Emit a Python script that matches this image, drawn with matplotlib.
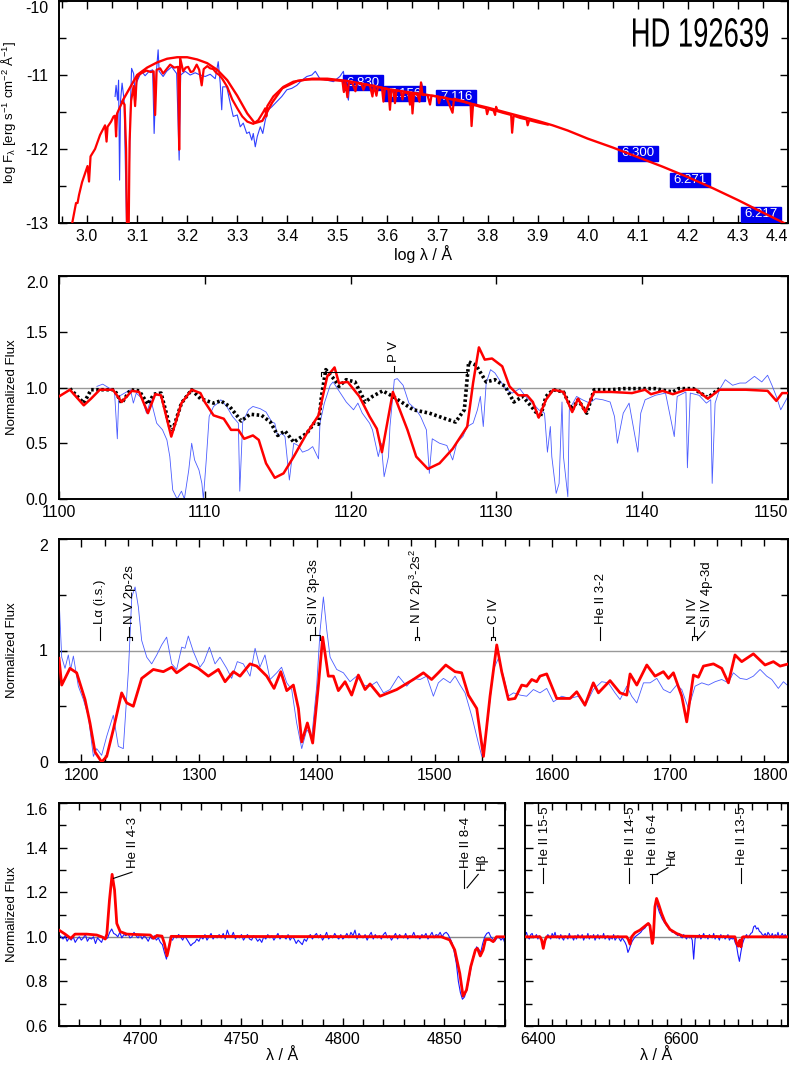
import matplotlib.pyplot as plt
import numpy as np
from matplotlib import font_manager
from matplotlib.patches import Rectangle, PathPatch
from matplotlib.textpath import TextPath
from matplotlib.transforms import Affine2D

# ---------------- data ----------------
# panel 1: SED, log lambda vs log F
sed_obs = [(3.056, -11.29), (3.058, -11.14), (3.061, -11.34), (3.063, -11.07), (3.065, -12.42), (3.067, -11.34),
           (3.070, -11.11), (3.074, -11.34), (3.079, -13.05), (3.083, -12.87), (3.085, -12.06), (3.087, -11.34),
           (3.089, -10.91), (3.093, -10.98), (3.097, -11.34), (3.099, -11.10), (3.103, -11.04), (3.109, -10.95),
           (3.116, -11.01), (3.124, -10.95), (3.131, -10.93), (3.134, -11.79), (3.138, -11.00), (3.142, -10.66),
           (3.144, -10.95), (3.152, -11.02), (3.159, -10.95), (3.169, -10.89), (3.179, -10.98), (3.184, -12.15),
           (3.187, -11.00), (3.196, -10.95), (3.206, -11.00), (3.216, -10.97), (3.226, -11.00), (3.236, -11.02),
           (3.246, -10.99), (3.256, -11.05), (3.262, -10.82), (3.266, -11.11), (3.269, -11.47), (3.271, -11.16),
           (3.279, -11.16), (3.286, -11.38), (3.292, -11.56), (3.300, -11.54), (3.306, -11.70), (3.312, -11.65),
           (3.319, -11.79), (3.324, -11.77), (3.329, -11.88), (3.332, -11.79), (3.336, -11.97), (3.340, -11.83),
           (3.346, -11.70), (3.351, -11.79), (3.356, -11.61), (3.362, -11.47), (3.369, -11.43), (3.379, -11.36),
           (3.389, -11.29), (3.399, -11.20), (3.409, -11.18), (3.419, -11.14), (3.429, -11.07), (3.439, -11.02),
           (3.449, -11.00), (3.456, -10.95), (3.465, -11.05), (3.479, -11.07), (3.492, -11.09), (3.505, -11.02),
           (3.512, -10.95), (3.515, -11.11), (3.522, -11.34), (3.525, -11.10), (3.530, -11.06), (3.540, -11.12),
           (3.550, -11.10), (3.560, -11.16), (3.570, -11.13), (3.580, -11.18), (3.590, -11.15), (3.600, -11.20),
           (3.610, -11.17), (3.620, -11.22), (3.630, -11.19), (3.640, -11.24), (3.650, -11.22), (3.660, -11.26),
           (3.668, -11.10), (3.675, -11.27)]

sed_model = [(2.969, -13.05), (2.974, -12.87), (2.978, -12.73), (2.981, -12.73), (2.984, -12.62), (2.990, -12.45),
             (2.996, -12.33), (3.001, -12.23), (3.004, -12.44), (3.007, -12.10), (3.016, -12.00), (3.026, -11.81),
             (3.036, -11.68), (3.039, -11.90), (3.041, -11.70), (3.048, -11.63), (3.053, -11.56), (3.056, -11.55),
             (3.058, -11.83), (3.060, -11.52), (3.066, -11.43), (3.071, -11.36), (3.075, -11.40), (3.078, -12.00),
             (3.080, -13.20), (3.083, -13.20), (3.085, -11.90), (3.088, -11.35), (3.093, -11.15), (3.096, -11.42),
             (3.099, -11.06), (3.103, -11.00), (3.110, -10.97), (3.119, -10.94), (3.127, -10.96), (3.133, -10.95),
             (3.136, -11.54), (3.139, -10.93), (3.146, -10.91), (3.152, -10.98), (3.159, -10.92), (3.166, -10.86),
             (3.174, -10.90), (3.182, -10.89), (3.184, -12.01), (3.186, -10.77), (3.192, -10.95), (3.197, -10.90),
             (3.202, -10.89), (3.207, -10.96), (3.212, -10.95), (3.219, -10.86), (3.224, -10.93), (3.229, -11.14),
             (3.233, -10.92), (3.240, -10.88), (3.246, -10.91), (3.252, -10.92), (3.258, -10.97), (3.264, -11.00),
             (3.270, -11.05), (3.280, -11.16), (3.290, -11.33), (3.300, -11.45), (3.310, -11.56), (3.320, -11.63),
             (3.332, -11.66), (3.342, -11.61), (3.352, -11.50), (3.356, -11.45), (3.358, -11.56), (3.360, -11.42),
             (3.372, -11.29), (3.392, -11.16), (3.412, -11.09), (3.439, -11.06), (3.465, -11.06), (3.492, -11.07),
             (3.510, -11.08), (3.513, -11.23), (3.516, -11.09), (3.520, -11.30), (3.523, -11.10), (3.530, -11.11),
             (3.536, -11.22), (3.539, -11.11), (3.548, -11.12), (3.552, -11.20), (3.556, -11.13), (3.565, -11.14),
             (3.570, -11.29), (3.573, -11.14), (3.578, -11.28), (3.581, -11.16), (3.589, -11.17), (3.592, -11.36),
             (3.595, -11.18), (3.602, -11.19), (3.605, -11.47), (3.608, -11.20), (3.612, -11.21), (3.615, -11.38),
             (3.618, -11.21), (3.627, -11.22), (3.630, -11.33), (3.633, -11.23), (3.642, -11.25), (3.645, -11.40),
             (3.648, -11.25), (3.650, -11.52), (3.653, -11.26), (3.660, -11.26), (3.664, -11.36), (3.667, -11.10),
             (3.670, -11.27), (3.680, -11.27), (3.685, -11.40), (3.688, -11.28), (3.700, -11.29), (3.703, -11.38),
             (3.706, -11.30), (3.718, -11.31), (3.730, -11.51), (3.733, -11.32), (3.750, -11.35), (3.766, -11.39),
             (3.768, -11.69), (3.771, -11.40), (3.785, -11.43), (3.797, -11.45), (3.799, -11.53), (3.802, -11.46),
             (3.812, -11.48), (3.815, -11.54), (3.817, -11.43), (3.820, -11.49), (3.830, -11.51), (3.847, -11.54),
             (3.849, -11.78), (3.852, -11.55), (3.865, -11.58), (3.878, -11.60), (3.880, -11.68), (3.883, -11.61),
             (3.900, -11.64), (3.920, -11.67)]

sed_cont = [(3.070, -11.36), (3.090, -11.12), (3.100, -11.00), (3.120, -10.90), (3.140, -10.83), (3.160, -10.78),
            (3.180, -10.76), (3.200, -10.76), (3.220, -10.79), (3.240, -10.84), (3.260, -10.93), (3.280, -11.07),
            (3.300, -11.28), (3.320, -11.52), (3.335, -11.65), (3.350, -11.62), (3.370, -11.37), (3.390, -11.18),
            (3.420, -11.08), (3.450, -11.05), (3.480, -11.05), (3.520, -11.08), (3.560, -11.13), (3.600, -11.19),
            (3.650, -11.24), (3.700, -11.29), (3.750, -11.36), (3.800, -11.44), (3.850, -11.53), (3.900, -11.62),
            (3.930, -11.68), (3.960, -11.75), (4.000, -11.86), (4.050, -11.98), (4.100, -12.11), (4.150, -12.24),
            (4.200, -12.38), (4.250, -12.53), (4.300, -12.69), (4.350, -12.86), (4.392, -13.00)]

phot_labels = ['6.830', '7.156', '7.116', '6.300', '6.271', '6.217']
phot_x = [3.552, 3.634, 3.737, 4.100, 4.204, 4.346]
phot_y = [-11.105, -11.255, -11.300, -12.060, -12.420, -12.880]

# panel 2: FUV 1100-1150
fuv_obs = [(1102.6, 1.01), (1103.0, 1.03), (1103.5, 0.99), (1103.8, 0.98), (1104.0, 0.54), (1104.1, 0.92),
           (1104.5, 0.95), (1104.9, 0.98), (1105.1, 0.86), (1105.3, 0.95), (1105.7, 0.90), (1106.0, 0.77),
           (1106.3, 0.89), (1106.7, 0.68), (1106.9, 0.65), (1107.1, 0.62), (1107.4, 0.53), (1107.6, 0.38),
           (1107.8, 0.08), (1108.1, 0.00), (1108.4, 0.07), (1108.6, 0.00), (1108.9, 0.26), (1109.1, 0.50),
           (1109.3, 0.35), (1109.6, 0.26), (1109.8, 0.14), (1109.9, 0.00), (1110.1, 0.35), (1110.3, 0.74),
           (1110.6, 0.83), (1110.9, 0.86), (1111.1, 0.89), (1111.5, 0.83), (1111.9, 0.74), (1112.3, 0.68),
           (1112.4, 0.07), (1112.6, 0.69), (1113.0, 0.80), (1113.3, 0.83), (1113.8, 0.81), (1114.2, 0.78),
           (1114.6, 0.69), (1114.8, 0.68), (1115.0, 0.56), (1115.3, 0.59), (1115.5, 0.56), (1115.8, 0.17),
           (1116.1, 0.50), (1116.4, 0.48), (1116.7, 0.42), (1117.1, 0.44), (1117.4, 0.47), (1117.8, 0.36),
           (1117.9, 0.68), (1118.2, 0.86), (1118.6, 1.02), (1118.8, 1.05), (1119.0, 1.01), (1119.4, 0.93),
           (1119.7, 0.87), (1120.2, 0.80), (1120.5, 0.86), (1120.8, 0.77), (1121.3, 0.68), (1121.5, 0.62),
           (1121.9, 0.38), (1122.1, 0.50), (1122.3, 0.20), (1122.6, 0.38), (1122.7, 0.65), (1123.0, 1.07),
           (1123.2, 1.08), (1123.6, 1.02), (1124.0, 0.86), (1124.5, 0.80), (1124.8, 0.74), (1125.2, 0.62),
           (1125.4, 0.23), (1125.6, 0.54), (1126.1, 0.50), (1126.6, 0.48), (1127.0, 0.35), (1127.3, 0.51),
           (1127.7, 0.56), (1128.0, 0.65), (1128.4, 0.68), (1128.7, 0.80), (1128.9, 0.92), (1129.1, 0.65),
           (1129.3, 1.04), (1129.6, 1.16), (1129.9, 1.13), (1130.2, 1.07), (1130.7, 0.98), (1131.1, 0.95),
           (1131.6, 0.99), (1132.0, 0.92), (1132.5, 0.86), (1132.9, 0.80), (1133.3, 0.77), (1133.5, 0.42),
           (1133.7, 0.65), (1133.8, 0.38), (1134.1, 0.05), (1134.3, 0.14), (1134.5, 0.87), (1134.6, 0.38),
           (1134.9, 0.02), (1135.0, 0.80), (1135.5, 0.92), (1135.9, 0.89), (1136.4, 0.86), (1136.8, 0.90),
           (1137.3, 0.89), (1137.8, 0.87), (1138.1, 0.74), (1138.3, 0.50), (1138.7, 0.77), (1139.1, 0.86),
           (1139.7, 0.42), (1139.9, 0.77), (1140.2, 0.89), (1140.9, 0.93), (1141.6, 0.95), (1142.2, 0.56),
           (1142.4, 0.92), (1143.0, 0.96), (1143.1, 0.28), (1143.3, 0.95), (1143.9, 0.93), (1144.4, 0.86),
           (1144.7, 0.89), (1144.8, 0.14), (1145.0, 0.86), (1145.3, 0.98), (1145.7, 1.07), (1146.2, 1.02),
           (1146.7, 1.04), (1147.1, 1.04), (1147.7, 1.10), (1148.2, 1.05), (1148.6, 1.11), (1148.9, 1.02),
           (1149.2, 0.92), (1149.5, 0.80), (1150.0, 0.92)]

fuv_model = [(1100.0, 0.92), (1100.75, 0.98), (1101.7, 0.84), (1102.2, 0.90), (1102.8, 0.98), (1103.7, 0.98),
             (1104.3, 0.87), (1105.0, 0.97), (1105.5, 0.96), (1106.1, 0.77), (1106.6, 0.94), (1107.0, 0.93),
             (1107.7, 0.56), (1108.4, 0.86), (1109.1, 0.98), (1109.7, 0.95), (1110.0, 0.87), (1110.6, 0.75),
             (1111.3, 0.72), (1111.8, 0.62), (1112.3, 0.62), (1112.7, 0.54), (1113.3, 0.57), (1113.7, 0.53),
             (1114.2, 0.32), (1114.8, 0.19), (1115.4, 0.23), (1116.1, 0.38), (1117.0, 0.59), (1117.8, 0.75),
             (1118.4, 1.10), (1118.9, 1.18), (1119.2, 1.04), (1119.8, 1.05), (1120.6, 0.92), (1121.3, 0.74),
             (1121.8, 0.63), (1122.15, 0.42), (1122.9, 0.96), (1123.9, 0.62), (1124.5, 0.38), (1125.3, 0.27),
             (1126.1, 0.32), (1127.0, 0.45), (1128.0, 0.65), (1128.4, 1.04), (1128.8, 1.36), (1129.2, 1.25),
             (1129.7, 1.26), (1130.4, 1.19), (1130.9, 1.01), (1131.5, 0.93), (1132.1, 0.93), (1132.5, 0.87),
             (1132.9, 0.73), (1133.4, 0.89), (1133.9, 0.98), (1134.6, 0.96), (1135.2, 0.78), (1135.6, 0.90),
             (1136.1, 0.78), (1136.7, 0.96), (1137.9, 0.96), (1139.3, 0.95), (1140.2, 0.98), (1140.6, 0.94),
             (1141.4, 0.97), (1142.1, 0.94), (1143.0, 0.98), (1143.7, 0.98), (1144.5, 0.90), (1145.3, 0.98),
             (1147.1, 0.98), (1148.6, 0.97), (1149.2, 0.88), (1149.6, 0.95), (1150.0, 0.95)]

fuv_model2 = [(1100.75, 0.99), (1101.7, 0.86), (1102.2, 0.98), (1103.8, 0.98), (1104.3, 0.86), (1104.9, 0.98),
              (1105.5, 0.97), (1106.1, 0.85), (1106.5, 0.94), (1107.0, 0.95), (1107.6, 0.65), (1107.8, 0.62),
              (1108.4, 0.86), (1109.1, 0.98), (1109.7, 0.90), (1110.6, 0.86), (1111.1, 0.88), (1111.7, 0.83),
              (1112.5, 0.70), (1113.1, 0.76), (1113.9, 0.75), (1114.5, 0.69), (1115.0, 0.57), (1115.5, 0.61),
              (1116.1, 0.51), (1117.0, 0.59), (1117.5, 0.68), (1117.8, 0.67), (1118.0, 0.92), (1118.3, 1.16),
              (1118.9, 1.07), (1119.2, 1.01), (1119.7, 1.07), (1120.3, 1.05), (1121.0, 0.87), (1121.5, 0.92),
              (1122.2, 0.97), (1122.9, 0.92), (1124.3, 0.80), (1125.4, 0.77), (1126.5, 0.72), (1127.2, 0.69),
              (1127.8, 0.80), (1128.1, 1.23), (1128.6, 1.20), (1129.3, 1.05), (1129.9, 1.07), (1130.6, 1.01),
              (1131.2, 0.87), (1131.8, 0.92), (1132.4, 0.83), (1133.0, 0.73), (1133.4, 0.92), (1133.9, 0.98),
              (1134.6, 0.96), (1135.2, 0.80), (1135.6, 0.89), (1136.2, 0.77), (1136.7, 0.98), (1137.9, 0.98),
              (1138.7, 0.99), (1139.8, 0.99), (1140.9, 0.99), (1142.1, 0.96), (1142.5, 0.99), (1143.5, 0.99),
              (1144.5, 0.91), (1145.3, 0.99)]

# panel 3: UV 1180-1800
uv_obs = [(1181.0, 1.48), (1183.3, 0.94), (1186.1, 0.84), (1188.9, 0.96), (1190.9, 0.83), (1193.2, 0.95),
          (1197.4, 0.68), (1201.7, 0.56), (1205.9, 0.41), (1210.2, 0.05), (1213.0, 0.12), (1217.2, 0.06),
          (1221.5, 0.23), (1227.1, 0.42), (1231.4, 0.14), (1235.6, 0.12), (1240.0, 0.83), (1242.8, 1.48),
          (1245.6, 1.57), (1248.4, 1.39), (1251.2, 1.09), (1255.5, 0.94), (1259.7, 0.88), (1264.0, 0.96),
          (1268.2, 1.05), (1272.4, 1.12), (1276.7, 0.88), (1280.9, 0.83), (1285.2, 1.03), (1288.0, 1.02),
          (1290.8, 1.13), (1295.1, 0.99), (1300.7, 0.85), (1304.1, 0.90), (1308.7, 1.03), (1313.5, 0.88),
          (1317.7, 0.94), (1323.4, 0.84), (1327.6, 0.75), (1332.4, 0.90), (1337.5, 0.88), (1343.2, 0.77),
          (1347.5, 1.02), (1351.6, 0.85), (1355.9, 0.96), (1360.2, 0.74), (1365.9, 0.80), (1370.0, 0.85),
          (1374.4, 0.71), (1378.6, 0.65), (1382.8, 0.35), (1387.1, 0.12), (1391.4, 0.29), (1395.7, 0.23),
          (1399.8, 0.68), (1402.7, 1.18), (1405.5, 1.48), (1408.4, 1.18), (1411.2, 0.94), (1416.8, 0.83),
          (1422.5, 0.80), (1428.1, 0.72), (1433.8, 0.77), (1439.5, 0.69), (1445.1, 0.68), (1450.8, 0.72),
          (1456.5, 0.62), (1462.1, 0.65), (1469.2, 0.77), (1476.3, 0.68), (1481.9, 0.75), (1487.6, 0.74),
          (1493.2, 0.77), (1498.9, 0.59), (1503.1, 0.71), (1507.4, 0.75), (1513.1, 0.71), (1517.3, 0.77),
          (1521.6, 0.69), (1525.8, 0.62), (1531.5, 0.41), (1537.1, 0.17), (1540.0, 0.05), (1544.2, 0.29),
          (1549.9, 0.83), (1554.1, 0.93), (1558.4, 0.77), (1562.6, 0.59), (1566.9, 0.62), (1572.5, 0.60),
          (1578.1, 0.59), (1583.8, 0.65), (1589.4, 0.62), (1595.1, 0.66), (1600.8, 0.54), (1607.8, 0.59),
          (1614.9, 0.57), (1622.0, 0.59), (1627.6, 0.50), (1634.7, 0.65), (1641.8, 0.72), (1647.4, 0.71),
          (1653.1, 0.62), (1657.4, 0.56), (1663.1, 0.68), (1667.3, 0.59), (1671.6, 0.53), (1677.3, 0.71),
          (1682.9, 0.71), (1688.6, 0.75), (1694.2, 0.65), (1699.9, 0.62), (1705.5, 0.69), (1709.8, 0.65),
          (1715.4, 0.48), (1721.1, 0.68), (1726.8, 0.71), (1732.4, 0.69), (1738.1, 0.72), (1743.7, 0.74),
          (1749.4, 0.71), (1753.6, 0.80), (1759.3, 0.75), (1765.0, 0.74), (1770.6, 0.77), (1776.3, 0.83),
          (1781.9, 0.77), (1786.2, 0.74), (1791.8, 0.66), (1796.1, 0.72), (1800.4, 0.68)]

uv_model = [(1181.0, 0.93), (1183.3, 0.69), (1190.3, 0.84), (1196.0, 0.80), (1203.1, 0.56), (1207.3, 0.35),
            (1211.6, 0.09), (1217.2, 0.00), (1221.5, 0.05), (1227.1, 0.29), (1234.2, 0.62), (1238.5, 0.53),
            (1244.1, 0.50), (1251.2, 0.75), (1261.1, 0.83), (1269.6, 0.81), (1276.7, 0.85), (1280.9, 0.80),
            (1291.7, 0.88), (1299.3, 0.84), (1307.8, 0.77), (1316.3, 0.83), (1322.0, 0.72), (1329.1, 0.81),
            (1334.7, 0.77), (1343.2, 0.88), (1348.9, 0.86), (1357.4, 0.77), (1363.6, 0.66), (1369.3, 0.81),
            (1374.4, 0.64), (1380.0, 0.69), (1384.3, 0.48), (1387.1, 0.18), (1391.9, 0.35), (1396.4, 0.17),
            (1401.2, 0.68), (1404.9, 1.12), (1409.7, 0.77), (1414.0, 0.77), (1418.2, 0.64), (1423.9, 0.72),
            (1429.5, 0.60), (1435.2, 0.78), (1440.9, 0.65), (1445.1, 0.70), (1453.6, 0.59), (1467.8, 0.65),
            (1481.9, 0.74), (1490.4, 0.80), (1497.4, 0.74), (1503.1, 0.80), (1509.4, 0.87), (1517.3, 0.81),
            (1522.9, 0.80), (1528.6, 0.60), (1535.7, 0.48), (1541.4, 0.05), (1547.0, 0.59), (1552.7, 1.05),
            (1556.9, 0.81), (1562.6, 0.56), (1568.2, 0.57), (1573.9, 0.69), (1578.1, 0.68), (1582.4, 0.74),
            (1586.6, 0.72), (1589.4, 0.77), (1595.1, 0.79), (1603.6, 0.57), (1614.9, 0.57), (1620.6, 0.63),
            (1627.6, 0.51), (1634.7, 0.71), (1639.0, 0.62), (1648.9, 0.73), (1657.4, 0.62), (1663.1, 0.60),
            (1665.9, 0.79), (1671.6, 0.69), (1680.1, 0.87), (1687.1, 0.77), (1694.2, 0.81), (1698.5, 0.75),
            (1702.7, 0.80), (1709.8, 0.59), (1714.0, 0.36), (1719.7, 0.78), (1723.9, 0.76), (1728.2, 0.86),
            (1736.7, 0.88), (1743.7, 0.84), (1749.4, 0.71), (1755.0, 0.96), (1760.7, 0.90), (1770.6, 0.97),
            (1780.5, 0.87), (1787.6, 0.90), (1793.3, 0.86), (1800.4, 0.88)]

# panel 4: optical 4660-4880, observed read every 1 A
opt_wave = np.arange(4660, 4881, 1)
opt_obs = [1.01, 1.0, 0.99, 1.005, 0.98, 0.995, 0.985, 1.0, 0.975, 0.99, 1.0, 0.985, 0.995, 1.01, 0.98, 0.995, 0.99, 1.0, 0.97, 0.995,
           0.985, 0.975, 1.0, 0.99, 0.995, 1.02, 1.035, 1.015, 1.01, 1.0, 1.02, 0.995, 1.01, 1.005, 1.015, 0.995, 1.0, 1.02, 1.005, 0.995,
           1.01, 0.99, 1.005, 0.995, 0.98, 1.0, 0.99, 1.005, 0.985, 0.995, 0.975, 0.965, 0.93, 0.9, 0.95, 0.99, 0.985, 1.005, 0.995, 1.01,
           1.0, 0.985, 1.005, 0.99, 0.975, 0.96, 0.97, 0.975, 0.99, 0.98, 1.0, 0.99, 1.01, 0.985, 1.0, 1.015, 0.99, 1.005, 0.995, 1.01,
           0.995, 1.015, 0.99, 1.03, 1.005, 1.0, 1.02, 0.99, 1.005, 0.995, 1.01, 0.985, 1.0, 1.01, 0.99, 0.985, 1.005, 0.995, 0.98, 0.99,
           0.975, 1.0, 0.99, 1.01, 0.995, 1.005, 0.985, 1.0, 1.015, 0.99, 1.005, 1.0, 0.99, 1.01, 0.985, 1.0, 0.99, 0.97, 0.985, 0.975,
           0.965, 0.99, 0.98, 1.0, 1.01, 0.99, 1.005, 1.015, 0.995, 1.01, 0.985, 1.0, 1.02, 0.99, 1.005, 0.995, 1.015, 1.0, 0.99, 1.01,
           0.99, 1.0, 1.015, 0.995, 1.02, 1.005, 1.03, 0.99, 1.015, 1.0, 0.995, 1.01, 0.985, 1.005, 1.02, 0.99, 1.01, 0.995, 1.005, 0.99,
           1.01, 1.02, 0.995, 1.005, 0.985, 1.0, 1.015, 0.99, 1.01, 1.0, 0.995, 1.015, 0.99, 1.005, 1.0, 1.02, 0.995, 1.005, 0.99, 1.01,
           1.0, 1.015, 0.99, 1.005, 1.02, 0.995, 1.01, 1.005, 1.02, 1.0, 1.015, 1.02, 1.01, 0.99, 0.97, 0.93, 0.88, 0.8, 0.75, 0.72,
           0.73, 0.76, 0.8, 0.85, 0.9, 0.93, 0.955, 0.945, 0.93, 0.97, 1.0, 1.015, 1.02, 1.0, 0.99, 0.98, 0.995, 1.0, 0.985, 0.995, 0.97]
opt_model = [(4660.0, 1.03), (4663.0, 1.012), (4665.8, 0.993), (4667.9, 1.012), (4673.7, 1.012), (4678.6, 1.008),
             (4681.1, 1.0), (4682.8, 0.99), (4683.6, 1.012), (4684.9, 1.165), (4686.2, 1.28), (4687.4, 1.21),
             (4688.5, 1.06), (4690.2, 1.023), (4693.5, 1.012), (4705.0, 1.008), (4706.7, 0.993), (4708.3, 1.006),
             (4710.8, 1.003), (4712.0, 0.97), (4713.3, 0.915), (4714.5, 0.963), (4715.3, 1.002), (4848.6, 1.0),
             (4852.7, 0.986), (4855.2, 0.941), (4857.7, 0.836), (4859.3, 0.734), (4861.0, 0.761), (4863.1, 0.866),
             (4865.4, 0.941), (4866.4, 0.948), (4867.8, 0.914), (4869.2, 0.941), (4870.4, 0.988), (4872.5, 0.988),
             (4874.2, 0.978), (4875.8, 1.0), (4880.8, 1.0)]

# panel 5: H-alpha region 6382-6750, observed read every 2 A
ha_wave = np.arange(6382, 6751, 2)
ha_obs = [1.005, 1.02, 1.0, 0.99, 1.01, 1.015, 0.995, 1.0, 1.01, 0.99, 1.005, 0.995, 0.985, 0.965, 0.98, 0.995, 1.01, 1.0, 0.99, 1.015,
          1.0, 1.02, 0.995, 1.005, 0.99, 1.01, 0.995, 0.985, 1.005, 1.0, 0.99, 1.015, 0.995, 1.0, 0.985, 1.005, 0.99, 1.01, 1.0, 0.995,
          1.01, 0.985, 1.0, 0.995, 1.015, 0.99, 1.005, 0.995, 1.01, 0.985, 1.0, 1.01, 0.99, 1.005, 0.995, 1.015, 0.99, 1.0, 1.005, 0.985,
          1.0, 0.99, 1.01, 0.985, 0.995, 1.005, 0.99, 0.98, 0.995, 0.985, 0.975, 0.96, 0.93, 0.945, 0.965, 0.98, 0.99, 1.0, 1.005, 1.01,
          1.015, 1.02, 1.03, 1.035, 1.04, 1.05, 1.055, 1.06, 1.02, 0.975, 1.04, 1.14, 1.155, 1.13, 1.11, 1.095, 1.08, 1.07, 1.06, 1.05,
          1.045, 1.035, 1.03, 1.02, 1.025, 1.015, 1.01, 1.005, 1.015, 1.0, 0.995, 1.01, 1.0, 0.99, 1.005, 0.995, 1.0, 0.985, 0.9, 0.99,
          1.005, 0.995, 1.01, 0.99, 1.0, 1.015, 0.995, 1.005, 0.99, 1.01, 1.0, 0.995, 1.015, 0.99, 1.005, 1.0, 0.985, 1.01, 0.995, 1.005,
          0.99, 1.0, 1.01, 0.985, 0.995, 0.99, 0.995, 0.975, 0.96, 0.92, 0.89, 0.93, 0.965, 0.985, 1.0, 1.01, 0.995, 1.005, 1.015, 1.02,
          1.045, 1.05, 1.035, 1.04, 1.025, 1.02, 1.01, 1.005, 1.015, 1.0, 1.02, 1.01, 1.0, 1.015, 0.995, 1.01, 1.0, 1.02, 0.995, 1.005,
          1.015, 1.0, 1.01, 1.0, 1.005]
ha_model = [(6382.0, 1.0), (6403.0, 1.0), (6405.3, 0.985), (6407.6, 0.948), (6410.0, 0.985), (6412.3, 1.0),
            (6524.2, 1.0), (6526.5, 0.988), (6528.9, 0.967), (6531.2, 1.0), (6535.8, 1.018), (6542.8, 1.03),
            (6549.8, 1.048), (6554.5, 1.06), (6556.8, 1.05), (6560.1, 0.97), (6561.5, 0.993), (6563.8, 1.135),
            (6566.1, 1.172), (6569.4, 1.142), (6573.1, 1.105), (6577.8, 1.067), (6584.8, 1.033), (6594.1, 1.015),
            (6603.4, 1.003), (6675.7, 1.0), (6678.0, 0.973), (6680.4, 0.958), (6682.7, 0.985), (6684.1, 0.955),
            (6686.0, 0.997), (6687.4, 1.0), (6750.0, 1.0)]

# ---------------- style ----------------
try:
    font_manager.findfont('Liberation Sans Narrow', fallback_to_default=False)
    narrow = 'Liberation Sans Narrow'
except ValueError:
    narrow = 'Liberation Sans'

plt.rcParams['font.family'] = ['Liberation Sans', 'DejaVu Sans']
plt.rcParams['mathtext.fontset'] = 'custom'
plt.rcParams['mathtext.rm'] = narrow
plt.rcParams['mathtext.it'] = narrow
plt.rcParams['axes.unicode_minus'] = False

NARROW = [narrow, 'DejaVu Sans']
RED = '#ff0000'
W, H = 789, 1067

fig = plt.figure(figsize=(W / 100, H / 100), dpi=100)


def add_axes(x0, x1, y0, y1):
    return fig.add_axes([x0 / W, 1 - y1 / H, (x1 - x0) / W, (y1 - y0) / H])


def style(ax, xticks, xlabels, yticks, ylabels, xminor=None, yminor=None):
    ax.set_xticks(xticks)
    ax.set_xticklabels(xlabels)
    ax.set_yticks(yticks)
    ax.set_yticklabels(ylabels)
    if xminor is not None:
        ax.set_xticks(xminor, minor=True)
    if yminor is not None:
        ax.set_yticks(yminor, minor=True)
    ax.tick_params(which='both', direction='in', top=True, right=True, width=1.0, labelsize=11.5)
    ax.tick_params(which='major', length=6)
    ax.tick_params(which='minor', length=5)
    ax.tick_params(axis='y', pad=8)
    ax.tick_params(axis='x', pad=4)
    for s in ax.spines.values():
        s.set_linewidth(1.4)


def bar(ax, x, y0, y1):
    ax.plot([x, x], [y0, y1], color='k', lw=0.8, zorder=6)


def doublet(ax, x1, x2, y0, y1, y2):
    xm = (x1 + x2) / 2
    ax.plot([x1, x1, x2, x2], [y0, y1, y1, y0], color='k', lw=0.8, zorder=6)
    ax.plot([xm, xm], [y1, y2], color='k', lw=0.8, zorder=6)


def ident(ax, x, y, s):
    ax.text(x, y, s, rotation=90, ha='center', va='bottom', fontsize=9.5, family=NARROW, zorder=6)


def ylab(ax, s, width_px):
    ax.set_ylabel(s, family=NARROW, fontsize=9.5)
    ax.yaxis.set_label_coords(-41 / width_px, 0.5)


# ---------------- panel 1 ----------------
ax1 = add_axes(59, 788, 1, 223)
x, y = np.array(sed_obs).T
ax1.plot(x, y, color='#3040ff', lw=0.8, zorder=2)
x, y = np.array(sed_cont).T
ax1.plot(x, y, color=RED, lw=1.7, zorder=4)
x, y = np.array(sed_model).T
ax1.plot(x, y, color=RED, lw=1.6, zorder=4)
for lab, px, py in zip(phot_labels, phot_x, phot_y):
    ax1.add_patch(Rectangle((px - 0.04, py - 0.1), 0.08, 0.2, color='#0000ee', zorder=3))
    ax1.text(px, py, lab, color='white', ha='center', va='center', fontsize=9.5, zorder=3)
ax1.set_xlim(2.944, 4.40)
ax1.set_ylim(-13, -10)
xt = [3.0, 3.1, 3.2, 3.3, 3.4, 3.5, 3.6, 3.7, 3.8, 3.9, 4.0, 4.1, 4.2, 4.3, 4.4]
style(ax1, xt, ['%.1f' % v for v in xt], [-13, -12, -11, -10], ['-13', '-12', '-11', '-10'],
      xminor=np.arange(2.95, 4.41, 0.05), yminor=[-12.5, -11.5, -10.5])
ax1.set_xlabel('log λ / Å', fontsize=11.5, labelpad=1)
ax1.set_ylabel('log F$_{\\mathrm{λ}}$ [erg s$^{-1}$ cm$^{-2}$ Å$^{-1}$]', family=NARROW, fontsize=9.5)
ax1.yaxis.set_label_coords(-41 / 729, 0.5)

# condensed star name, squeezed horizontally like the original lettering
name = TextPath((0, 0), 'HD 192639', size=40, prop=font_manager.FontProperties(family='Liberation Sans'))
ext = name.get_extents()
name_tr = Affine2D().translate(-ext.x0, -ext.y0).scale(135 / ext.width, 29 / ext.height).translate(633, H - 47)
fig.add_artist(PathPatch(name, transform=name_tr, facecolor='k', edgecolor='none'))

# ---------------- panel 2 ----------------
ax2 = add_axes(59, 788, 276, 499)
ax2.axhline(1.0, color='#999999', lw=1.0, zorder=1)
x, y = np.array(fuv_obs).T
ax2.plot(x, y, color='#4a5cff', lw=0.6, zorder=2)
x, y = np.array(fuv_model).T
ax2.plot(x, y, color=RED, lw=1.8, zorder=4)
x, y = np.array(fuv_model2).T
ax2.plot(x, y, color='k', lw=2.6, linestyle=(0, (0.7, 0.7)), zorder=3)
doublet(ax2, 1118.0, 1128.0, 1.10, 1.14, 1.19)
ident(ax2, 1123.0, 1.23, 'P V')
ax2.set_xlim(1100, 1150)
ax2.set_ylim(0, 2)
xt = [1100, 1110, 1120, 1130, 1140, 1150]
style(ax2, xt, [str(v) for v in xt], [0, 0.5, 1.0, 1.5, 2.0], ['0.0', '0.5', '1.0', '1.5', '2.0'])
ylab(ax2, 'Normalized Flux', 729)

# ---------------- panel 3 ----------------
ax3 = add_axes(59, 788, 539, 762)
ax3.axhline(1.0, color='#999999', lw=1.0, zorder=1)
x, y = np.array(uv_obs).T
ax3.plot(x, y, color='#4a5cff', lw=0.6, zorder=2)
x, y = np.array(uv_model).T
ax3.plot(x, y, color=RED, lw=2.0, zorder=4)
bar(ax3, 1216.0, 1.09, 1.21)
ident(ax3, 1216.0, 1.24, 'Lα (i.s.)')
doublet(ax3, 1238.8, 1242.8, 1.09, 1.12, 1.21)
ident(ax3, 1241.0, 1.24, 'N V 2p-2s')
doublet(ax3, 1393.8, 1402.8, 1.09, 1.14, 1.21)
ident(ax3, 1397.5, 1.24, 'Si IV 3p-3s')
doublet(ax3, 1483.3, 1486.5, 1.09, 1.12, 1.21)
ident(ax3, 1485.0, 1.24, 'N IV 2p$^3$-2s$^2$')
doublet(ax3, 1548.2, 1550.8, 1.09, 1.12, 1.21)
ident(ax3, 1550.0, 1.24, 'C IV')
bar(ax3, 1640.4, 1.09, 1.21)
ident(ax3, 1640.8, 1.24, 'He II 3-2')
doublet(ax3, 1718.5, 1722.5, 1.09, 1.13, 1.21)
ax3.plot([1723.5, 1729.5], [1.10, 1.17], color='k', lw=0.8, zorder=6)
ident(ax3, 1719.5, 1.24, 'N IV')
ident(ax3, 1731.5, 1.21, 'Si IV 4p-3d')
ax3.set_xlim(1181, 1800)
ax3.set_ylim(0, 2)
xt = [1200, 1300, 1400, 1500, 1600, 1700, 1800]
style(ax3, xt, [str(v) for v in xt], [0, 1, 2], ['0', '1', '2'],
      xminor=np.arange(1200, 1801, 20), yminor=[0.5, 1.5])
ylab(ax3, 'Normalized Flux', 729)

# ---------------- panel 4 ----------------
ax4 = add_axes(59, 505, 803, 1026)
ax4.axhline(1.0, color='#888888', lw=1.0, zorder=1)
ax4.plot(opt_wave, opt_obs, color='#1a1aff', lw=0.8, zorder=2)
x, y = np.array(opt_model).T
ax4.plot(x, y, color=RED, lw=2.0, zorder=4)
ax4.plot([4686.9, 4696.0], [1.262, 1.29], color='k', lw=0.8, zorder=6)
ident(ax4, 4696.5, 1.31, 'He II 4-3')
bar(ax4, 4859.6, 1.22, 1.30)
ident(ax4, 4861.0, 1.31, 'He II 8-4')
ax4.plot([4861.3, 4866.8], [1.22, 1.28], color='k', lw=0.8, zorder=6)
ident(ax4, 4868.4, 1.30, 'Hβ')
ax4.set_xlim(4660, 4880)
ax4.set_ylim(0.6, 1.6)
yt = [0.6, 0.8, 1.0, 1.2, 1.4, 1.6]
style(ax4, [4700, 4750, 4800, 4850], ['4700', '4750', '4800', '4850'], yt, ['%.1f' % v for v in yt],
      xminor=np.arange(4660, 4881, 10), yminor=[0.7, 0.9, 1.1, 1.3, 1.5])
ax4.set_xlabel('λ / Å', fontsize=11.5, labelpad=1)
ylab(ax4, 'Normalized Flux', 446)

# ---------------- panel 5 ----------------
ax5 = add_axes(525, 788, 803, 1026)
ax5.axhline(1.0, color='#888888', lw=1.0, zorder=1)
ax5.plot(ha_wave, ha_obs, color='#1a1aff', lw=0.8, zorder=2)
x, y = np.array(ha_model).T
ax5.plot(x, y, color=RED, lw=2.0, zorder=4)
bar(ax5, 6407.6, 1.24, 1.31)
ident(ax5, 6410.0, 1.32, 'He II 15-5')
bar(ax5, 6527.9, 1.24, 1.31)
ident(ax5, 6530.0, 1.32, 'He II 14-5')
ax5.plot([6560.1, 6560.1], [1.24, 1.28], color='k', lw=0.8, zorder=6)
ax5.plot([6556.5, 6566.0], [1.28, 1.28], color='k', lw=0.8, zorder=6)
ax5.plot([6566.0, 6582.0], [1.28, 1.31], color='k', lw=0.8, zorder=6)
ident(ax5, 6561.5, 1.32, 'He II 6-4')
ident(ax5, 6588.0, 1.32, 'Hα')
bar(ax5, 6683.6, 1.24, 1.31)
ident(ax5, 6686.0, 1.32, 'He II 13-5')
ax5.set_xlim(6382, 6750)
ax5.set_ylim(0.6, 1.6)
style(ax5, [6400, 6600], ['6400', '6600'], yt, [''] * len(yt),
      xminor=np.arange(6400, 6750, 20), yminor=[0.7, 0.9, 1.1, 1.3, 1.5])
ax5.set_xlabel('λ / Å', fontsize=11.5, labelpad=1)

# edge tick labels are pulled inside the frame like in the original
for ax in (ax1, ax2, ax3):
    ax.xaxis.get_major_ticks()[-1].label1.set_horizontalalignment('right')
for ax in (ax1, ax2, ax3, ax4):
    ax.yaxis.get_major_ticks()[-1].label1.set_verticalalignment('top')

fig.savefig('out.png', dpi=100)
